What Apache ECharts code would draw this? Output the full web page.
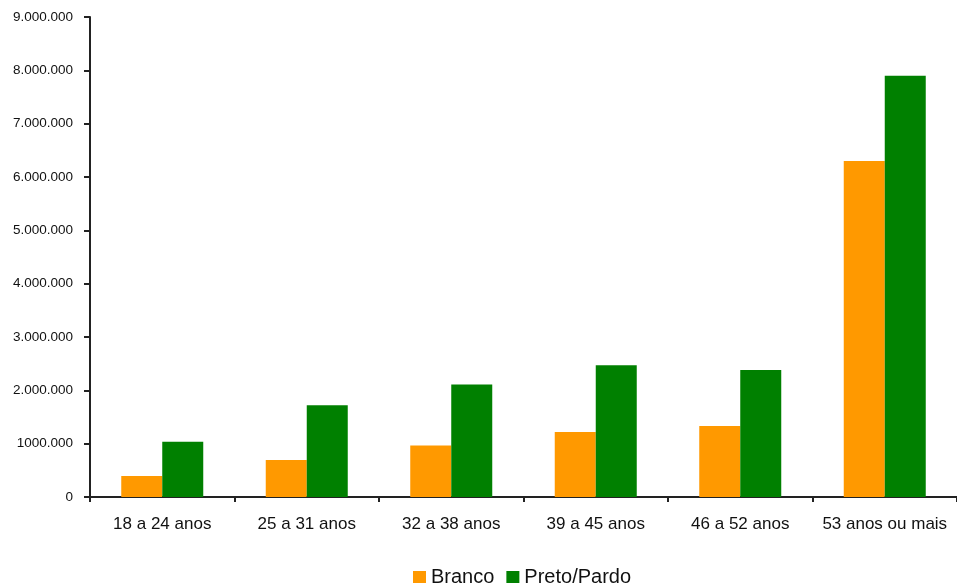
<!DOCTYPE html>
<html>
<head>
<meta charset="utf-8">
<script src="https://cdn.jsdelivr.net/npm/echarts@6/dist/echarts.min.js"></script>
<style>
html,body{margin:0;padding:0;background:#fff;}
#chart{width:957px;height:587px;}
</style>
</head>
<body>
<div id="chart"></div>
<script>
var categories = ["18 a 24 anos", "25 a 31 anos", "32 a 38 anos", "39 a 45 anos", "46 a 52 anos", "53 anos ou mais"];
var branco = [395000, 695000, 965000, 1220000, 1330000, 6300000];
var pretoPardo = [1035000, 1720000, 2110000, 2470000, 2380000, 7900000];
var yTickLabels = ["0", "1000.000", "2.000.000", "3.000.000", "4.000.000", "5.000.000", "6.000.000", "7.000.000", "8.000.000", "9.000.000"];

var chart = echarts.init(document.getElementById('chart'), null, {renderer: 'canvas'});
var font = '"Liberation Sans", Arial, sans-serif';
chart.setOption({
  animation: false,
  backgroundColor: '#ffffff',
  textStyle: {fontFamily: font},
  grid: {left: 90, top: 17, bottom: 90, right: -4, containLabel: false},
  legend: {
    left: 413, top: 567, padding: 0,
    itemWidth: 13, itemHeight: 12, itemGap: 12,
    icon: 'rect',
    textStyle: {fontFamily: font, fontSize: 20, color: '#111', padding: [0,0,0,0]},
    data: ['Branco', 'Preto/Pardo']
  },
  xAxis: {
    type: 'category',
    data: categories,
    axisLine: {lineStyle: {color: '#222', width: 2}},
    axisTick: {show: true, length: 5, alignWithLabel: false, lineStyle: {color: '#222', width: 2}},
    axisLabel: {fontFamily: font, fontSize: 17, color: '#111', margin: 19, interval: 0}
  },
  yAxis: {
    type: 'value',
    min: 0, max: 9000000, interval: 1000000,
    axisLine: {show: true, lineStyle: {color: '#222', width: 2}},
    axisTick: {show: true, length: 6, lineStyle: {color: '#222', width: 2}},
    splitLine: {show: false},
    axisLabel: {
      fontFamily: font, fontSize: 13.5, color: '#111', margin: 17,
      formatter: function (v) { return yTickLabels[Math.round(v / 1000000)]; }
    }
  },
  series: [
    {name: 'Branco', type: 'bar', data: branco, barWidth: 41, barGap: '0%', itemStyle: {color: '#FF9900'}},
    {name: 'Preto/Pardo', type: 'bar', data: pretoPardo, barWidth: 41, barGap: '0%', itemStyle: {color: '#008000'}}
  ]
});
</script>
</body>
</html>
